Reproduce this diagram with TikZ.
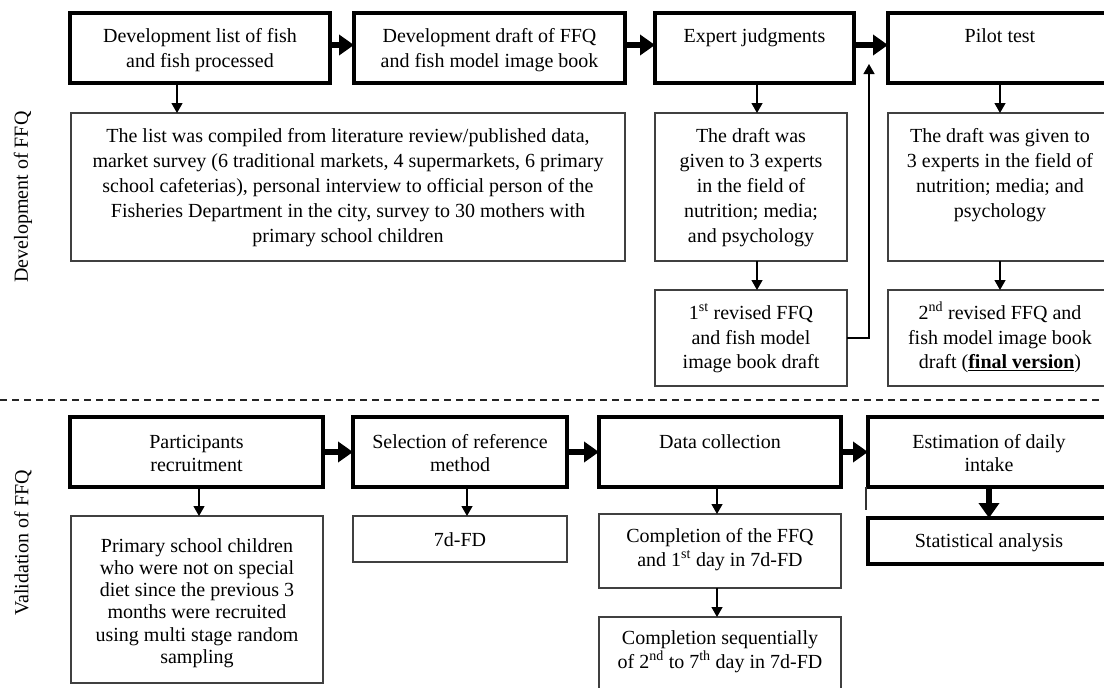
\documentclass[tikz,border=0pt]{standalone}
\usepackage{fontspec}
\setmainfont{Liberation Serif}
\usetikzlibrary{arrows.meta}
\newcommand\bt[5]{\parbox[b][#2pt][t]{#1pt}{\fontsize{20}{#4}\selectfont\centering\rule{0pt}{#3pt}#5\par}}
\tikzset{
  thickbox/.style={draw=black, line width=3.4pt, inner sep=0pt, outer sep=0pt, anchor=north west},
  thinbox/.style={draw=black!75, line width=1.3pt, inner sep=0pt, outer sep=0pt, anchor=north west},
  thinarr/.style={draw=black, line width=1.3pt, -{Triangle[length=10pt,width=11pt]}},
  thickarr/.style={draw=black, line width=5.5pt, -{Triangle[length=15pt,width=20pt]}},
  sidelabel/.style={rotate=90, inner sep=0pt, font=\fontsize{20}{24}\selectfont},
  sepline/.style={draw=black!85, line width=1.3pt, dash pattern=on 7pt off 5pt},
}
\begin{document}
\begin{tikzpicture}[x=1pt,y=-1pt]
\useasboundingbox (0,0) rectangle (1104,688);
\clip (0,0) rectangle (1104,688);
\fill[white] (0,0) rectangle (1104,688);

% side labels
\node[sidelabel] (ldev) at (23,197) {Development of FFQ};
\node[sidelabel] (lval) at (23,543) {Validation of FFQ};

% separator
\coordinate (sl) at (0,400);
\coordinate (sr) at (1104,400);
\draw[sepline] (sl) -- (sr);

% ---- Development row 1
\node[thickbox] (b1) at (70,13) {\bt{260}{70}{29}{25}{Development list of fish\\and fish processed}};
\node[thickbox] (b2) at (354,13) {\bt{271}{70}{29}{25}{Development draft of FFQ\\and fish model image book}};
\node[thickbox] (b3) at (655,13) {\bt{199}{70}{29}{25}{Expert judgments}};
\node[thickbox] (b4) at (888,13) {\bt{224}{70}{29}{25}{Pilot test}};

% ---- Development row 2
\node[thinbox] (list) at (71,113) {\bt{554}{148}{29}{25}{The list was compiled from literature review/published data,\\market survey (6 traditional markets, 4 supermarkets, 6 primary\\school cafeterias), personal interview to official person of the\\Fisheries Department in the city, survey to 30 mothers with\\primary school children}};
\node[thinbox] (draft) at (655,113) {\bt{192}{148}{29}{25}{The draft was\\given to 3 experts\\in the field of\\nutrition; media;\\and psychology}};
\node[thinbox] (pdraft) at (888,113) {\bt{224}{148}{29}{25}{The draft was given to\\3 experts in the field of\\nutrition; media; and\\psychology}};

% ---- Development row 3
\node[thinbox] (rev1) at (655,290) {\bt{192}{96}{29.5}{24.5}{1\textsuperscript{st} revised FFQ\\and fish model\\image book draft}};
\node[thinbox] (rev2) at (888,290) {\bt{224}{96}{29.5}{24.5}{2\textsuperscript{nd} revised FFQ and\\fish model image book\\draft (\textbf{\underline{final version}})}};

% ---- Validation row 1
\node[thickbox] (p1) at (70,417) {\bt{253}{70}{31}{23}{Participants\\recruitment}};
\node[thickbox] (p2) at (353,417) {\bt{214}{70}{31}{23}{Selection of reference\\method}};
\node[thickbox] (p3) at (599,417) {\bt{242}{70}{31}{23}{Data collection}};
\node[thickbox] (p4) at (868,417) {\bt{242}{70}{31}{23}{Estimation of daily\\intake}};

% ---- Validation row 2
\node[thinbox] (prim) at (71,516) {\bt{252}{167}{36}{22.3}{Primary school children\\who were not on special\\diet since the previous 3\\months were recruited\\using multi stage random\\sampling}};
\node[thinbox] (fd) at (353,516) {\bt{214}{46}{30}{23}{7d-FD}};
\node[thinbox] (comp1) at (599,514) {\bt{242}{74}{28.5}{23.5}{Completion of the FFQ\\and 1\textsuperscript{st} day in 7d-FD}};
\node[thickbox] (stat) at (868,518) {\bt{242}{46}{29}{23}{Statistical analysis}};
\node[thinbox] (comp2) at (599,617) {\bt{242}{90}{27.5}{23.5}{Completion sequentially\\of 2\textsuperscript{nd} to 7\textsuperscript{th} day in 7d-FD}};

% ---- thick horizontal arrows
\draw[thickarr] ([yshift=3pt]b1.east) -- ([yshift=3pt]b2.west);
\draw[thickarr] ([yshift=3pt]b2.east) -- ([yshift=3pt]b3.west);
\draw[thickarr] ([yshift=3pt]b3.east) -- ([yshift=3pt]b4.west);
\draw[thickarr] (p1.east) -- (p2.west);
\draw[thickarr] (p2.east) -- (p3.west);
\draw[thickarr] (p3.east) -- (p4.west);
\draw[thickarr] (p4.south -| 989,0) -- (stat.north -| 989,0);

% ---- thin vertical arrows
\draw[thinarr] (b1.south -| 177,0) -- (list.north -| 177,0);
\draw[thinarr] (b3.south -| 757,0) -- (draft.north -| 757,0);
\draw[thinarr] (draft.south -| 757,0) -- (rev1.north -| 757,0);
\draw[thinarr] (b4.south -| 1000,0) -- (pdraft.north -| 1000,0);
\draw[thinarr] (pdraft.south -| 1000,0) -- (rev2.north -| 1000,0);
\draw[thinarr] (p1.south -| 199,0) -- (prim.north -| 199,0);
\draw[thinarr] (p2.south -| 467,0) -- (fd.north -| 467,0);
\draw[thinarr] (p3.south -| 717,0) -- (comp1.north -| 717,0);
\draw[thinarr] (comp1.south -| 717,0) -- (comp2.north -| 717,0);

% ---- feedback arrow
\coordinate (fb) at (869,64);
\draw[thinarr] (rev1.east) -- (rev1.east -| fb) -- (fb);

% ---- small stray line at estimation box
\coordinate (st) at (866,510);
\draw[draw=black!80, line width=1.2pt] (st |- p4.south) -- (st);
\end{tikzpicture}
\end{document}
